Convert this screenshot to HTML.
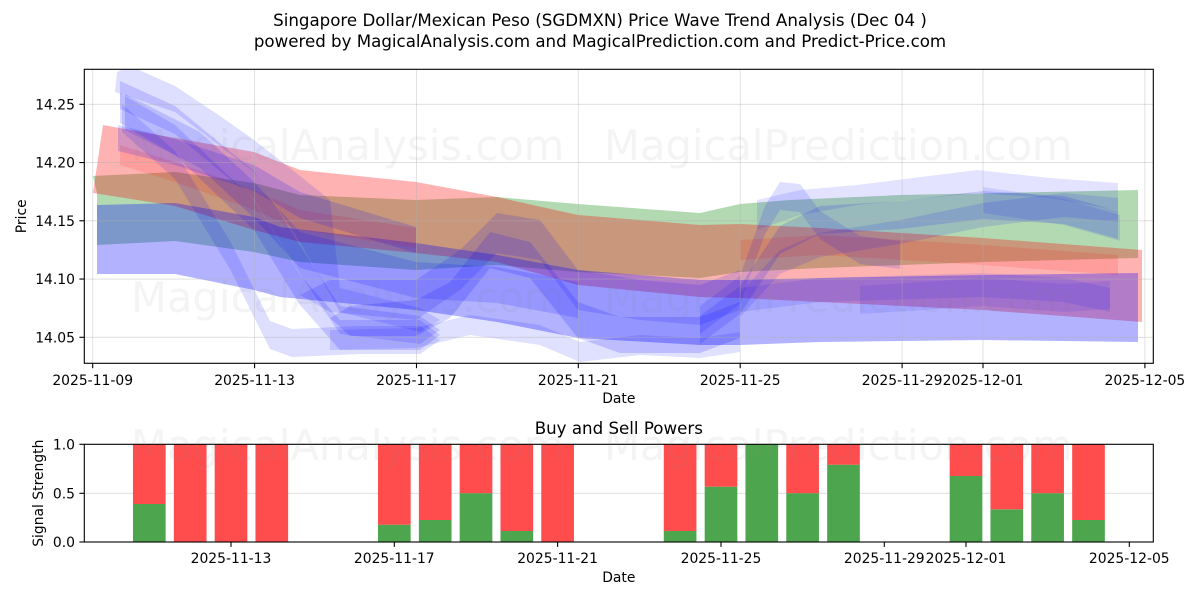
<!DOCTYPE html>
<html><head><meta charset="utf-8"><style>
html,body{margin:0;padding:0;background:#fff;}
svg{display:block;}
text{font-family:"DejaVu Sans","Liberation Sans",sans-serif;fill:#000;}
</style></head><body>
<svg width="1200" height="600" viewBox="0 0 1200 600" xmlns="http://www.w3.org/2000/svg">
<defs><clipPath id="c1"><rect x="84.3" y="69.3" width="1069" height="294"/></clipPath></defs>
<rect width="1200" height="600" fill="#fff"/>
<text x="600" y="26" font-size="16.67" text-anchor="middle">Singapore Dollar/Mexican Peso (SGDMXN) Price Wave Trend Analysis (Dec 04 )</text>
<text x="600" y="47" font-size="16.67" text-anchor="middle">powered by MagicalAnalysis.com and MagicalPrediction.com and Predict-Price.com</text>

<g clip-path="url(#c1)">
<!-- long bands -->
<polygon fill="#008000" fill-opacity="0.3" points="93,176 175,172 254,183 300,195 416,200 497,197 578,204 700,213 740,204 790,200 900,195 1000,193 1138,190 1138,258 983,262 820,268 740,272 700,278 578,272 497,265 416,270 300,262 254,252 175,241 97,245 97,193"/>
<polygon fill="#ff0000" fill-opacity="0.3" points="103,125 175,138 254,152 300,170 416,182 497,197 578,215 700,225 740,224 820,228 983,238 1142,250 1142,322 983,310 820,302 740,298 700,297 578,285 497,262 416,253 300,242 254,230 175,206 93,193"/>
<polygon fill="#0000ff" fill-opacity="0.3" points="97,205 175,203 254,217 280,227 416,243 497,255 578,270 700,280 740,280 820,278 983,275 1138,273 1138,342 983,340 820,342 740,345 700,345 578,338 497,322 416,310 280,297 254,290 175,274 97,274"/>
<!-- red waves -->
<polygon fill="#ff0000" fill-opacity="0.12" points="120,145 175,162 254,190 300,210 416,228 416,248 300,230 254,210 175,182 120,165"/>
<polygon fill="#ff0000" fill-opacity="0.12" points="740,240 820,235 983,245 1118,255 1118,275 983,265 820,255 740,260"/>
<!-- descent waves -->
<polygon fill="#0000ff" fill-opacity="0.13" points="117,72 130,66 175,86 220,116 254,140 300,176 330,200 340,288 420,308 440,320 420,332 340,312 300,242 254,172 175,112 115,92"/>
<polygon fill="#0000ff" fill-opacity="0.14" points="120,81 175,106 254,171 300,246 340,306 420,316 440,330 420,344 340,334 300,274 254,199 175,134 120,109"/>
<polygon fill="#0000ff" fill-opacity="0.14" points="120,93 175,125 254,200 300,275 340,320 420,320 440,335 420,350 340,350 300,305 254,230 175,155 120,123"/>
<polygon fill="#0000ff" fill-opacity="0.13" points="122,104 175,151 230,241 270,321 292,329 360,326 420,326 440,340 420,354 360,354 292,357 270,349 230,269 175,179 122,132"/>
<polygon fill="#0000ff" fill-opacity="0.15" points="125,94 200,132 254,182 300,232 416,262 497,267 578,282 578,318 497,303 416,298 300,268 254,218 200,168 125,130"/>
<polygon fill="#0000ff" fill-opacity="0.16" points="118,125 175,139 254,165 300,192 416,227 416,253 300,218 254,191 175,165 118,151"/>
<!-- middle waves -->
<polygon fill="#0000ff" fill-opacity="0.16" points="330,318 350,306 416,300 450,282 490,232 530,242 578,302 620,317 700,317 740,302 740,338 700,353 620,353 578,338 530,278 490,268 450,318 416,336 350,336"/>
<polygon fill="#0000ff" fill-opacity="0.14" points="300,295 330,280 416,280 460,250 497,213 540,220 578,270 640,280 700,285 740,270 740,310 700,325 640,320 578,310 540,260 497,253 460,290 416,320 330,312"/>
<polygon fill="#0000ff" fill-opacity="0.12" points="330,330 416,328 470,315 540,325 580,342 640,335 700,338 740,332 740,352 700,358 640,355 580,362 540,345 470,335 416,348 330,350"/>
<!-- bump waves -->
<polygon fill="#0000ff" fill-opacity="0.13" points="700,306 740,276 765,206 780,182 800,184 820,211 860,236 900,241 900,269 860,264 820,239 800,212 780,210 765,234 740,304 700,334"/>
<polygon fill="#0000ff" fill-opacity="0.14" points="700,316 740,286 780,226 820,206 900,201 983,191 1064,196 1118,211 1118,239 1064,224 983,219 900,229 820,234 780,254 740,314 700,344"/>
<polygon fill="#0000ff" fill-opacity="0.12" points="740,293 780,250 820,233 900,220 983,203 1064,193 1118,198 1118,222 1064,217 983,227 900,244 820,257 780,274 740,317"/>
<!-- right waves -->
<polygon fill="#0000ff" fill-opacity="0.11" points="757,200 800,190 857,185 977,170 1050,178 1118,183 1118,210 1050,198 977,193 857,205 800,215 757,230"/>
<polygon fill="#0000ff" fill-opacity="0.1" points="983,187 1064,199 1120,215 1120,241 1064,225 983,213"/>
<polygon fill="#0000ff" fill-opacity="0.1" points="740,288 820,278 983,273 1064,278 1110,288 1110,312 1064,302 983,297 820,302 740,312"/>
<polygon fill="#0000ff" fill-opacity="0.09" points="860,286 983,278 1064,284 1110,281 1110,309 1064,312 983,306 860,314"/>
</g>

<!-- top grid -->
<g stroke="#b0b0b0" stroke-opacity="0.45" stroke-width="0.8">
<line x1="84.3" x2="1153.3" y1="104.3" y2="104.3"/>
<line x1="84.3" x2="1153.3" y1="162.55" y2="162.55"/>
<line x1="84.3" x2="1153.3" y1="220.8" y2="220.8"/>
<line x1="84.3" x2="1153.3" y1="279.05" y2="279.05"/>
<line x1="84.3" x2="1153.3" y1="337.3" y2="337.3"/>
<line x1="92.7" x2="92.7" y1="69.3" y2="363.3"/>
<line x1="254.6" x2="254.6" y1="69.3" y2="363.3"/>
<line x1="416.5" x2="416.5" y1="69.3" y2="363.3"/>
<line x1="578.3" x2="578.3" y1="69.3" y2="363.3"/>
<line x1="740.2" x2="740.2" y1="69.3" y2="363.3"/>
<line x1="902.1" x2="902.1" y1="69.3" y2="363.3"/>
<line x1="983" x2="983" y1="69.3" y2="363.3"/>
<line x1="1144.9" x2="1144.9" y1="69.3" y2="363.3"/>
</g>

<!-- top axes frame & ticks -->
<rect x="84.3" y="69.3" width="1069" height="294" fill="none" stroke="#000" stroke-width="1.1"/>
<g stroke="#000" stroke-width="1.1">
<line x1="79.4" x2="84.3" y1="104.3" y2="104.3"/>
<line x1="79.4" x2="84.3" y1="162.55" y2="162.55"/>
<line x1="79.4" x2="84.3" y1="220.8" y2="220.8"/>
<line x1="79.4" x2="84.3" y1="279.05" y2="279.05"/>
<line x1="79.4" x2="84.3" y1="337.3" y2="337.3"/>
<line x1="92.7" x2="92.7" y1="363.3" y2="368.2"/>
<line x1="254.6" x2="254.6" y1="363.3" y2="368.2"/>
<line x1="416.5" x2="416.5" y1="363.3" y2="368.2"/>
<line x1="578.3" x2="578.3" y1="363.3" y2="368.2"/>
<line x1="740.2" x2="740.2" y1="363.3" y2="368.2"/>
<line x1="902.1" x2="902.1" y1="363.3" y2="368.2"/>
<line x1="983" x2="983" y1="363.3" y2="368.2"/>
<line x1="1144.9" x2="1144.9" y1="363.3" y2="368.2"/>
</g>
<g font-size="13.9" text-anchor="end">
<text x="75" y="109.3">14.25</text>
<text x="75" y="167.5">14.20</text>
<text x="75" y="225.8">14.15</text>
<text x="75" y="284">14.10</text>
<text x="75" y="342.3">14.05</text>
</g>
<g font-size="13.9" text-anchor="middle">
<text x="92.7" y="385">2025-11-09</text>
<text x="254.6" y="385">2025-11-13</text>
<text x="416.5" y="385">2025-11-17</text>
<text x="578.3" y="385">2025-11-21</text>
<text x="740.2" y="385">2025-11-25</text>
<text x="902.1" y="385">2025-11-29</text>
<text x="983" y="385">2025-12-01</text>
<text x="1144.9" y="385">2025-12-05</text>
<text x="618.8" y="403">Date</text>
<text transform="translate(26,216.3) rotate(-90)" x="0" y="0">Price</text>
</g>

<!-- bottom chart -->
<line x1="84.3" x2="1153.3" y1="493.3" y2="493.3" stroke="#b0b0b0" stroke-opacity="0.45" stroke-width="0.8"/>
<g>
<rect x="132.97" y="504" width="32.67" height="38" fill="#4da64d"/><rect x="132.97" y="444.3" width="32.67" height="59.7" fill="#ff4d4d"/>
<rect x="173.87" y="444.3" width="32.67" height="97.7" fill="#ff4d4d"/>
<rect x="214.67" y="444.3" width="32.67" height="97.7" fill="#ff4d4d"/>
<rect x="255.47" y="444.3" width="32.67" height="97.7" fill="#ff4d4d"/>
<rect x="377.97" y="524.7" width="32.67" height="17.3" fill="#4da64d"/><rect x="377.97" y="444.3" width="32.67" height="80.4" fill="#ff4d4d"/>
<rect x="418.87" y="520" width="32.67" height="22" fill="#4da64d"/><rect x="418.87" y="444.3" width="32.67" height="75.7" fill="#ff4d4d"/>
<rect x="459.67" y="493.15" width="32.67" height="48.85" fill="#4da64d"/><rect x="459.67" y="444.3" width="32.67" height="48.85" fill="#ff4d4d"/>
<rect x="500.47" y="531" width="32.67" height="11" fill="#4da64d"/><rect x="500.47" y="444.3" width="32.67" height="86.7" fill="#ff4d4d"/>
<rect x="541.27" y="444.3" width="32.67" height="97.7" fill="#ff4d4d"/>
<rect x="663.77" y="531" width="32.67" height="11" fill="#4da64d"/><rect x="663.77" y="444.3" width="32.67" height="86.7" fill="#ff4d4d"/>
<rect x="704.67" y="486.7" width="32.67" height="55.3" fill="#4da64d"/><rect x="704.67" y="444.3" width="32.67" height="42.4" fill="#ff4d4d"/>
<rect x="745.47" y="444.3" width="32.67" height="97.7" fill="#4da64d"/>
<rect x="786.27" y="493.15" width="32.67" height="48.85" fill="#4da64d"/><rect x="786.27" y="444.3" width="32.67" height="48.85" fill="#ff4d4d"/>
<rect x="827.17" y="464.7" width="32.67" height="77.3" fill="#4da64d"/><rect x="827.17" y="444.3" width="32.67" height="20.4" fill="#ff4d4d"/>
<rect x="949.67" y="476" width="32.67" height="66" fill="#4da64d"/><rect x="949.67" y="444.3" width="32.67" height="31.7" fill="#ff4d4d"/>
<rect x="990.47" y="509.3" width="32.67" height="32.7" fill="#4da64d"/><rect x="990.47" y="444.3" width="32.67" height="65" fill="#ff4d4d"/>
<rect x="1031.27" y="493.15" width="32.67" height="48.85" fill="#4da64d"/><rect x="1031.27" y="444.3" width="32.67" height="48.85" fill="#ff4d4d"/>
<rect x="1072.17" y="520" width="32.67" height="22" fill="#4da64d"/><rect x="1072.17" y="444.3" width="32.67" height="75.7" fill="#ff4d4d"/>
</g>
<rect x="84.3" y="444.3" width="1069" height="97.7" fill="none" stroke="#000" stroke-width="1.1"/>
<g stroke="#000" stroke-width="1.1">
<line x1="79.4" x2="84.3" y1="444.3" y2="444.3"/>
<line x1="79.4" x2="84.3" y1="493.3" y2="493.3"/>
<line x1="79.4" x2="84.3" y1="542" y2="542"/>
<line x1="231" x2="231" y1="542" y2="546.9"/>
<line x1="394.3" x2="394.3" y1="542" y2="546.9"/>
<line x1="557.6" x2="557.6" y1="542" y2="546.9"/>
<line x1="721" x2="721" y1="542" y2="546.9"/>
<line x1="884.3" x2="884.3" y1="542" y2="546.9"/>
<line x1="966" x2="966" y1="542" y2="546.9"/>
<line x1="1129.3" x2="1129.3" y1="542" y2="546.9"/>
</g>
<g font-size="13.9" text-anchor="end">
<text x="75" y="449.3">1.0</text>
<text x="75" y="498.3">0.5</text>
<text x="75" y="547">0.0</text>
</g>
<g font-size="13.9" text-anchor="middle">
<text x="231" y="563">2025-11-13</text>
<text x="394.3" y="563">2025-11-17</text>
<text x="557.6" y="563">2025-11-21</text>
<text x="721" y="563">2025-11-25</text>
<text x="884.3" y="563">2025-11-29</text>
<text x="966" y="563">2025-12-01</text>
<text x="1129.3" y="563">2025-12-05</text>
<text x="618.8" y="582">Date</text>
<text transform="translate(43,493.2) rotate(-90)" x="0" y="0">Signal Strength</text>
</g>
<text x="618.8" y="434" font-size="16.67" text-anchor="middle">Buy and Sell Powers</text>

<!-- watermarks -->
<g font-size="41.67">
<text x="131" y="160" style="fill:#808080;fill-opacity:0.09">MagicalAnalysis.com</text>
<text x="604" y="160" style="fill:#808080;fill-opacity:0.09">MagicalPrediction.com</text>
<text x="131" y="312" style="fill:#808080;fill-opacity:0.09">MagicalAnalysis.com</text>
<text x="604" y="312" style="fill:#808080;fill-opacity:0.09">MagicalPrediction.com</text>
<text x="131" y="460" style="fill:#808080;fill-opacity:0.09">MagicalAnalysis.com</text>
<text x="604" y="460" style="fill:#808080;fill-opacity:0.09">MagicalPrediction.com</text>
</g>
</svg>
</body></html>
